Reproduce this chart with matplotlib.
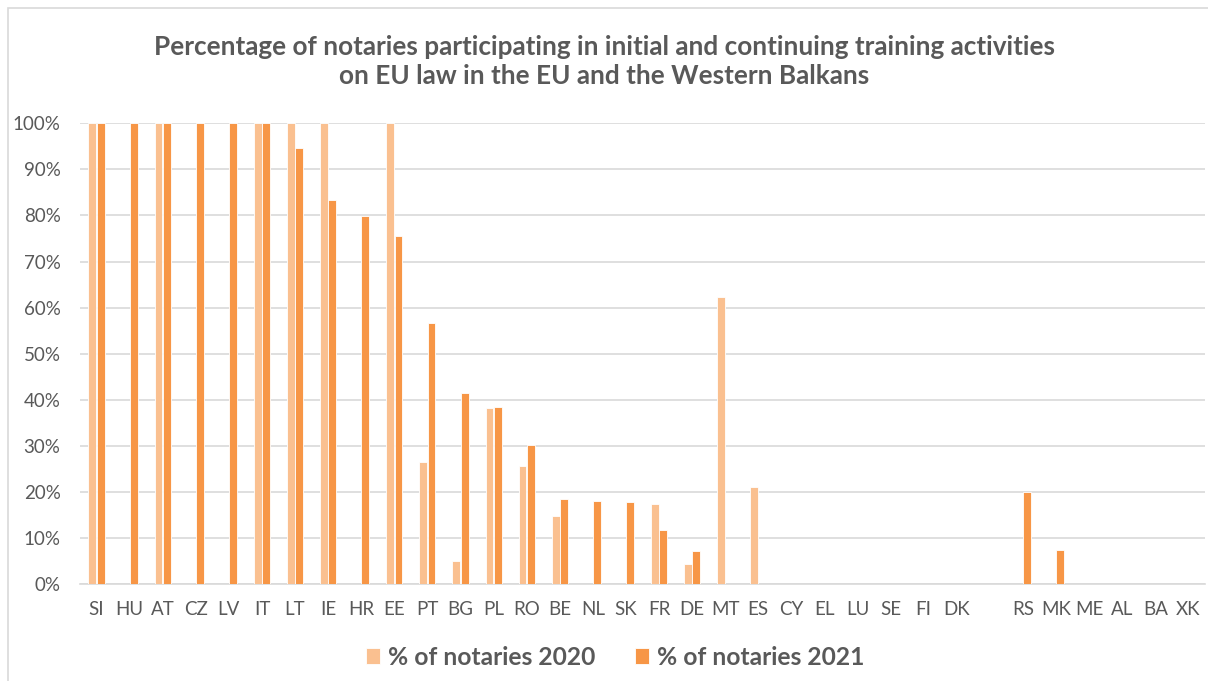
import numpy as np
from matplotlib import pyplot as plt
from matplotlib.patches import Rectangle

countries = ["SI", "HU", "AT", "CZ", "LV", "IT", "LT", "IE", "HR", "EE",
             "PT", "BG", "PL", "RO", "BE", "NL", "SK", "FR", "DE", "MT",
             "ES", "CY", "EL", "LU", "SE", "FI", "DK", "",
             "RS", "MK", "ME", "AL", "BA", "XK"]

# share of notaries trained (%), 0 = no bar
notaries_2020 = [100, 0, 100, 0, 0, 100, 100, 100, 0, 100,
                 26.5, 5.0, 38.2, 25.6, 14.9, 0, 0, 17.4, 4.4, 62.3,
                 21.0, 0, 0, 0, 0, 0, 0, 0,
                 0, 0, 0, 0, 0, 0]
notaries_2021 = [100, 100, 100, 100, 100, 100, 94.7, 83.3, 79.8, 75.5,
                 56.7, 41.6, 38.4, 30.3, 18.5, 18.0, 17.9, 11.8, 7.2, 0,
                 0, 0, 0, 0, 0, 0, 0, 0,
                 20.1, 7.4, 0, 0, 0, 0]

c2020 = "#FAC090"
c2021 = "#F79646"
grey = "#595959"

plt.rcParams["font.family"] = ["Lato", "DejaVu Sans"]

fig = plt.figure(figsize=(12.08, 6.81), dpi=100)
ax = fig.add_axes([0.0662, 0.142, 0.9313, 0.677])

x = np.arange(len(countries))
w = 0.235
ax.bar(x - 0.125, notaries_2020, width=w, color=c2020, edgecolor="white",
       linewidth=0.6, label="% of notaries 2020", zorder=3)
ax.bar(x + 0.125, notaries_2021, width=w, color=c2021, edgecolor="white",
       linewidth=0.6, label="% of notaries 2021", zorder=3)

ax.set_xlim(-0.5, len(countries) - 0.5)
ax.set_ylim(0, 100)
ax.set_yticks(np.arange(0, 101, 10))
ax.set_yticklabels([f"{v}%" for v in range(0, 101, 10)])
ax.set_xticks(x)
ax.set_xticklabels(countries)

ax.grid(axis="y", color="#D9D9D9", linewidth=1.2, zorder=0)
ax.tick_params(axis="both", length=0, labelsize=13.5, colors=grey)
ax.tick_params(axis="y", pad=14)
ax.tick_params(axis="x", pad=12)
for side in ["top", "right", "left"]:
    ax.spines[side].set_visible(False)
ax.spines["bottom"].set_color("#D9D9D9")
ax.spines["bottom"].set_linewidth(1.2)

fig.text(0.5, 0.91, "Percentage of notaries participating in initial and continuing training activities\n"
         "on EU law in the EU and the Western Balkans",
         ha="center", va="center", fontsize=18.8, fontweight="bold", color=grey,
         linespacing=1.25)

leg = fig.legend(loc="center", bbox_to_anchor=(0.509, 0.035), ncol=2, frameon=False,
                 prop={"size": 17.7, "weight": "bold"}, handlelength=0.57, handleheight=0.57,
                 columnspacing=1.6, handletextpad=0.33)
for t in leg.get_texts():
    t.set_color(grey)

fig.patches.append(Rectangle((8 / 1208, -0.1), 1.2, 1 - 8 / 681 + 0.1,
                             transform=fig.transFigure, fill=False,
                             edgecolor="#D9D9D9", linewidth=1.2))

plt.savefig("out.png")
